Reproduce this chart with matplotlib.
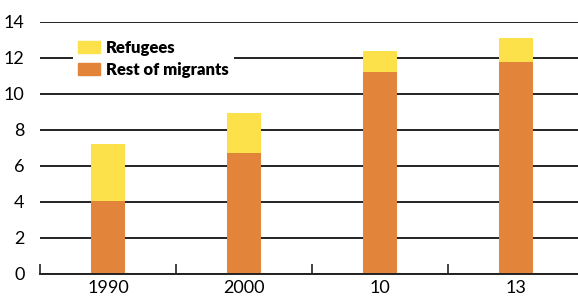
import matplotlib
matplotlib.use("Agg")
import matplotlib.pyplot as plt
from matplotlib.patches import Patch

categories = ["1990", "2000", "10", "13"]
rest_of_migrants = [4.06, 6.72, 11.22, 11.78]
refugees = [3.16, 2.22, 1.17, 1.33]
yticks = [0, 2, 4, 6, 8, 10, 12, 14]

c_ref = "#FDE14B"
c_rest = "#E2843A"

plt.rcParams['font.family'] = ['Lato', 'DejaVu Sans']

fig = plt.figure(figsize=(5.78, 2.97), dpi=100)
ax = fig.add_axes([40/578, 1-274/297, 544/578, 252/297])

x = list(range(len(categories)))
ax.bar(x, rest_of_migrants, width=0.243, color=c_rest, zorder=3)
ax.bar(x, refugees, bottom=rest_of_migrants, width=0.243, color=c_ref, zorder=3)

ax.set_xlim(-0.5, 3.5)
ax.set_ylim(0, 14)
ax.set_yticks(yticks)
ax.set_yticklabels([str(v) for v in yticks], fontsize=13)
ax.yaxis.grid(True, color="#222222", linewidth=1.4, zorder=1)
ax.tick_params(axis='y', length=0, pad=11)

ax.set_xticks(x)
ax.set_xticklabels(categories, fontsize=13)
ax.set_xticks([-0.5, 0.5, 1.5, 2.5], minor=True)
ax.tick_params(axis='x', which='major', length=0, pad=4)
ax.tick_params(axis='x', which='minor', direction='in', length=7, width=1.2, color="#222222")

for s in ['left', 'right', 'top']:
    ax.spines[s].set_visible(False)
ax.spines['bottom'].set_color("#222222")
ax.spines['bottom'].set_linewidth(1.4)
ax.spines['bottom'].set_zorder(4)

handles = [Patch(color=c_ref, label="Refugees"), Patch(color=c_rest, label="Rest of migrants")]
leg = ax.legend(handles=handles, loc='upper left', bbox_to_anchor=(33/544, 1-13/252),
                frameon=True, fancybox=False, framealpha=1, edgecolor='none',
                prop={'weight': 'heavy', 'size': 12}, handlelength=1.3, handleheight=0.7,
                handletextpad=0.4, labelspacing=0.35, borderpad=0.3, borderaxespad=0)
leg.set_zorder(5)

fig.savefig("out.png", dpi=100)
